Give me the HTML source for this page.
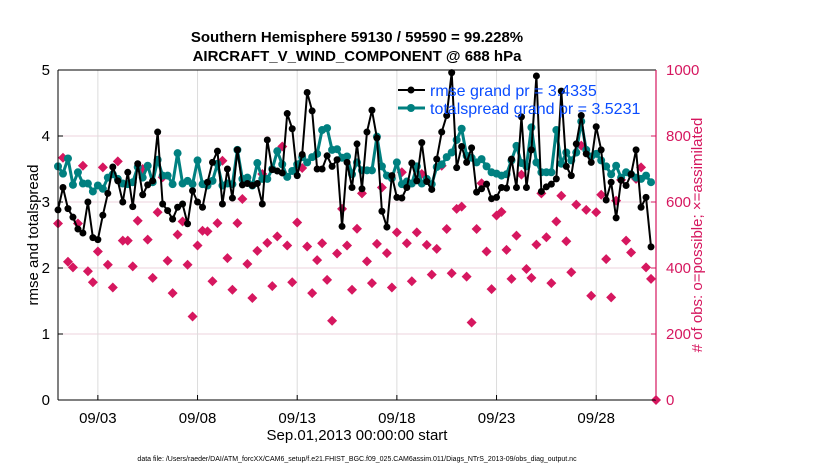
<!DOCTYPE html>
<html><head><meta charset="utf-8"><style>
body{margin:0;background:#fff;width:830px;height:470px;overflow:hidden;font-family:"Liberation Sans",Arial,sans-serif}
</style></head><body>
<svg id="chart" width="830" height="470" xmlns="http://www.w3.org/2000/svg" font-family="Liberation Sans, Arial, sans-serif">
<text x="357" y="42" text-anchor="middle" font-size="15" font-weight="bold">Southern Hemisphere 59130 / 59590 = 99.228%</text>
<text x="357" y="61" text-anchor="middle" font-size="15" font-weight="bold">AIRCRAFT_V_WIND_COMPONENT @ 688 hPa</text>
<g id="grid"></g>
<g id="marks"></g>
<g id="axes"></g>
<text transform="translate(38,235) rotate(-90)" text-anchor="middle" font-size="15">rmse and totalspread</text>
<text transform="translate(702,235) rotate(-90)" text-anchor="middle" font-size="15" fill="#d6175f"># of obs: o=possible; ×=assimilated</text>
<text x="357" y="440" text-anchor="middle" font-size="15">Sep.01,2013 00:00:00 start</text>
<text x="357" y="461" text-anchor="middle" font-size="7">data file: /Users/raeder/DAI/ATM_forcXX/CAM6_setup/f.e21.FHIST_BGC.f09_025.CAM6assim.011/Diags_NTrS_2013-09/obs_diag_output.nc</text>
<g>
<line x1="398" y1="90" x2="425" y2="90" stroke="#000" stroke-width="2"/><circle cx="411" cy="90" r="3.5" fill="#000"/>
<text x="430" y="96" font-size="16" fill="#0a4cff">rmse grand pr = 3.4335</text>
<line x1="398" y1="108" x2="425" y2="108" stroke="#008080" stroke-width="3"/><circle cx="411" cy="108" r="4" fill="#008080"/>
<text x="430" y="114" font-size="16" fill="#0a4cff">totalspread grand pr = 3.5231</text>
</g>
</svg>
<script>
const rmse=[2.88,3.22,2.90,2.77,2.59,2.53,3.0,2.46,2.43,2.8,3.13,3.53,3.32,3.0,3.45,2.93,3.58,3.11,3.26,3.32,4.06,2.97,2.87,2.74,2.92,2.97,2.67,3.17,3.0,2.92,
3.3,3.6,3.77,2.97,3.5,3.06,3.79,3.26,3.28,3.25,3.28,2.97,3.94,3.49,3.47,3.44,4.34,4.11,3.4,3.72,4.66,4.38,3.5,3.5,3.7,3.54,3.64,2.63,3.6,3.22,
3.88,3.2,4.06,4.39,3.97,2.86,2.62,3.4,3.07,3.06,3.22,3.59,3.32,3.9,3.31,3.19,3.65,4.06,4.31,4.96,3.52,3.84,3.6,3.82,3.15,3.2,3.27,3.05,3.07,3.22,
3.21,3.65,3.22,4.29,3.22,3.79,4.91,3.16,3.23,3.27,3.35,4.68,3.54,3.4,3.88,4.31,3.73,3.6,4.14,3.79,3.03,3.3,2.76,3.33,3.25,3.42,3.79,2.92,3.07,2.32];
const spread=[3.54,3.43,3.66,3.26,3.45,3.28,3.28,3.16,3.25,3.2,3.37,3.42,3.35,3.28,3.27,3.3,3.53,3.37,3.55,3.3,3.64,3.4,3.4,3.27,3.74,3.28,3.32,3.27,3.63,3.27,
3.25,3.32,3.58,3.25,3.28,3.27,3.79,3.35,3.37,3.25,3.59,3.35,3.35,3.5,3.77,3.57,3.38,3.47,3.57,3.68,3.6,3.68,3.73,4.09,4.12,3.79,3.8,3.67,3.69,3.42,
3.6,3.48,3.48,3.48,3.99,3.54,3.4,3.36,3.6,3.27,3.31,3.28,3.54,3.28,3.35,3.27,3.53,3.57,3.68,3.75,3.94,4.11,3.7,3.67,3.6,3.65,3.54,3.45,3.43,3.4,
3.42,3.63,3.85,3.59,3.54,4.13,3.6,3.45,3.45,3.45,4.09,3.58,3.75,3.63,3.75,4.22,3.79,3.69,3.73,3.63,3.54,3.42,3.55,3.37,3.45,3.42,3.37,3.35,3.4,3.3];
const nobs=[535,734,419,402,535,710,390,357,450,705,410,341,723,483,483,405,543,700,486,370,569,675,422,324,501,541,410,253,468,513,
511,360,536,725,430,334,536,609,412,309,452,685,476,345,496,768,468,357,538,703,465,324,424,475,364,240,444,579,468,334,
519,626,420,354,473,644,445,341,508,690,475,360,508,685,470,380,458,710,518,384,579,586,374,235,518,657,450,336,559,570,
455,367,498,683,397,370,471,626,493,354,541,619,481,387,592,771,576,316,569,622,427,311,604,667,483,447,670,705,402,367,0];
const yTicks=[0,1,2,3,4,5];
const y2Ticks=[0,200,400,600,800,1000];
const xTickDays=[2,7,12,17,22,27];
const xTickLabels=['09/03','09/08','09/13','09/18','09/23','09/28'];
const stepsPerDay=4;
const NS='http://www.w3.org/2000/svg';
const L=58,R=656,T=70,B=400;
const xs=d=>L+(R-L)*d/30;
const ys=v=>B-(B-T)*v/5;
const y2s=v=>B-(B-T)*v/1000;
function mk(tag,attrs,parent){const e=document.createElementNS(NS,tag);for(const k in attrs)e.setAttribute(k,attrs[k]);parent.appendChild(e);return e;}
const grid=document.getElementById('grid'),marks=document.getElementById('marks'),axes=document.getElementById('axes');
yTicks.forEach(v=>{if(v>0&&v<5){const g=mk('line',{x1:L,x2:R,y1:ys(v),y2:ys(v),stroke:'#ecd3dc','stroke-width':1},grid);

}
const t=mk('text',{x:L-8,y:ys(v)+5,'text-anchor':'end','font-size':15},axes);t.textContent=v;


mk('line',{x1:L,x2:L+5,y1:ys(v),y2:ys(v),stroke:'#000'},axes);});
y2Ticks.forEach(v=>{const t=mk('text',{x:R+10,y:y2s(v)+5,'font-size':15,fill:'#d6175f'},axes);t.textContent=v;


mk('line',{x1:R-5,x2:R,y1:y2s(v),y2:y2s(v),stroke:'#d6175f'},axes);});
xTickDays.forEach((d,i)=>{const g=mk('line',{x1:xs(d),x2:xs(d),y1:T,y2:B,stroke:'#dcdcdc'},grid);


mk('line',{x1:xs(d),x2:xs(d),y1:B,y2:B-5,stroke:'#000'},axes);
const t=mk('text',{x:xs(d),y:B+23,'text-anchor':'middle','font-size':15},axes);t.textContent=xTickLabels[i];

});
mk('line',{x1:L,x2:R,y1:T,y2:T,stroke:'#000'},axes);
mk('line',{x1:L,x2:R,y1:B,y2:B,stroke:'#000'},axes);
mk('line',{x1:L,x2:L,y1:T,y2:B,stroke:'#000'},axes);
mk('line',{x1:R,x2:R,y1:T,y2:B,stroke:'#d6175f','stroke-width':1.2},axes);
// nobs markers
nobs.forEach((v,i)=>{const x=xs(i/stepsPerDay),y=y2s(v);
const p=mk('path',{d:`M${x} ${y-5}L${x+5} ${y}L${x} ${y+5}L${x-5} ${y}Z`,fill:'#d6175f'},marks);

});
function series(arr,color,w,r,name){
const pts=arr.map((v,i)=>xs(i/stepsPerDay)+','+ys(v)).join(' ');
const pl=mk('polyline',{points:pts,fill:'none',stroke:color,'stroke-width':w,'stroke-linejoin':'round'},marks);


arr.forEach((v,i)=>{const c=mk('circle',{cx:xs(i/stepsPerDay),cy:ys(v),r:r,fill:color},marks);

});}
series(spread,'#008080',3,4,'totalspread');
series(rmse,'#000000',2,3.5,'rmse');
</script>
</body></html>
